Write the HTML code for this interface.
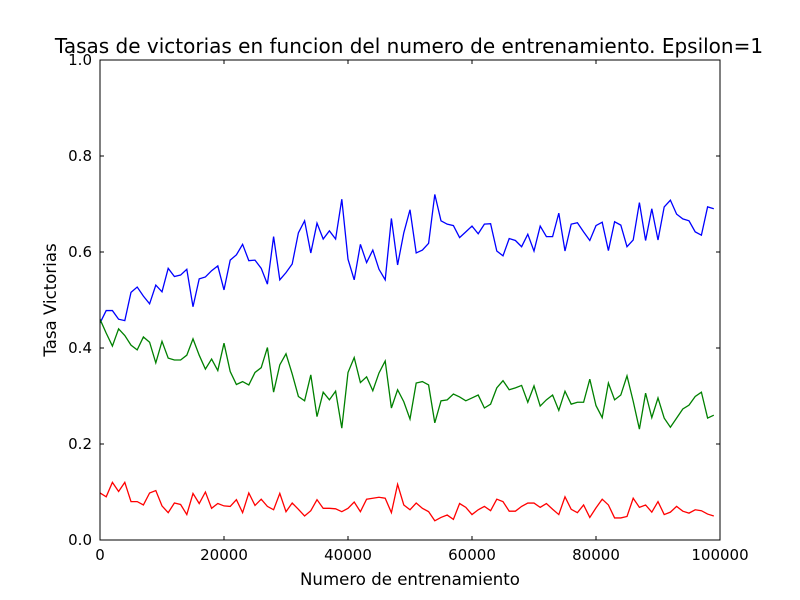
<!DOCTYPE html>
<html><head><meta charset="utf-8"><style>
body{margin:0;background:#fff}
svg{display:block;font-family:"DejaVu Sans","Liberation Sans",sans-serif}
</style></head><body>
<svg id="chart" width="800" height="600">
<rect width="800" height="600" fill="#fff"/>
<text x="409" y="53" font-size="20" text-anchor="middle">Tasas de victorias en funcion del numero de entrenamiento. Epsilon=1</text>
<text x="410" y="585" font-size="16.6" text-anchor="middle">Numero de entrenamiento</text>
<text x="56" y="300" font-size="16.6" text-anchor="middle" transform="rotate(-90 56 300)">Tasa Victorias</text>
<g id="ticks"></g>
<g id="series"></g>
<rect x="100" y="60" width="620" height="480" fill="none" stroke="#000" stroke-width="1"/>
</svg>
<script>
const xStep = 1000;
const blue = [0.452,0.478,0.478,0.46,0.457,0.516,0.527,0.508,0.492,0.531,0.517,0.566,0.549,0.552,0.564,0.486,0.544,0.548,0.561,0.571,0.521,0.583,0.594,0.616,0.582,0.583,0.566,0.533,0.632,0.542,0.557,0.575,0.64,0.665,0.598,0.66,0.627,0.644,0.627,0.71,0.585,0.542,0.616,0.578,0.604,0.564,0.542,0.67,0.573,0.64,0.688,0.598,0.604,0.618,0.72,0.665,0.658,0.655,0.63,0.642,0.654,0.638,0.658,0.659,0.602,0.592,0.628,0.624,0.611,0.637,0.602,0.654,0.632,0.632,0.681,0.602,0.658,0.661,0.642,0.624,0.655,0.662,0.603,0.663,0.656,0.611,0.625,0.703,0.624,0.69,0.625,0.694,0.708,0.679,0.669,0.665,0.642,0.635,0.694,0.69];
const green = [0.46,0.431,0.404,0.44,0.426,0.406,0.396,0.423,0.412,0.369,0.414,0.379,0.375,0.375,0.385,0.419,0.385,0.356,0.377,0.353,0.41,0.351,0.324,0.33,0.323,0.349,0.359,0.401,0.308,0.365,0.388,0.346,0.299,0.29,0.344,0.257,0.308,0.292,0.31,0.233,0.349,0.38,0.328,0.34,0.311,0.348,0.373,0.275,0.313,0.288,0.252,0.327,0.33,0.323,0.244,0.29,0.292,0.304,0.298,0.29,0.296,0.302,0.275,0.283,0.317,0.332,0.313,0.317,0.322,0.287,0.321,0.279,0.292,0.302,0.27,0.31,0.283,0.287,0.287,0.335,0.28,0.255,0.327,0.292,0.302,0.342,0.289,0.231,0.306,0.255,0.296,0.254,0.235,0.254,0.273,0.281,0.299,0.308,0.254,0.26];
const red = [0.098,0.09,0.12,0.101,0.12,0.08,0.08,0.073,0.098,0.103,0.071,0.057,0.077,0.074,0.053,0.097,0.076,0.1,0.066,0.076,0.071,0.07,0.084,0.057,0.098,0.072,0.085,0.07,0.063,0.097,0.059,0.077,0.064,0.05,0.061,0.084,0.066,0.066,0.065,0.059,0.066,0.079,0.059,0.085,0.087,0.089,0.087,0.057,0.116,0.073,0.063,0.077,0.066,0.059,0.04,0.047,0.052,0.043,0.076,0.068,0.053,0.063,0.07,0.061,0.085,0.08,0.06,0.06,0.07,0.077,0.077,0.068,0.076,0.064,0.053,0.09,0.064,0.057,0.073,0.047,0.067,0.085,0.073,0.046,0.046,0.049,0.087,0.068,0.073,0.058,0.08,0.053,0.058,0.07,0.06,0.056,0.063,0.061,0.054,0.05];
const xTicks = [0,20000,40000,60000,80000,100000];
const yTicks = [0.0,0.2,0.4,0.6,0.8,1.0];
const colors = ["#0000ff","#008000","#ff0000"];
const names = ["series-blue","series-green","series-red"];

const NS="http://www.w3.org/2000/svg";
const X0=100,X1=720,Y0=540,Y1=60;
function sx(v){return X0+(v-0)/(100000)*(X1-X0);}
function sy(v){return Y0-(v-0)/1*(Y0-Y1);}
const tg=document.getElementById('ticks');
xTicks.forEach(t=>{
  const x=sx(t);
  [[Y0,Y0-4],[Y1,Y1+4]].forEach(p=>{
    const l=document.createElementNS(NS,'line');
    l.setAttribute('x1',x);l.setAttribute('x2',x);l.setAttribute('y1',p[0]);l.setAttribute('y2',p[1]);
    l.setAttribute('stroke','#000');
    
    
    tg.appendChild(l);
  });
  const tx=document.createElementNS(NS,'text');
  tx.setAttribute('x',x);tx.setAttribute('y',Y0+20);tx.setAttribute('font-size','15');tx.setAttribute('text-anchor','middle');
  tx.textContent=String(t);
  
  
  tg.appendChild(tx);
});
yTicks.forEach(t=>{
  const y=sy(t);
  [[X0,X0+4],[X1,X1-4]].forEach(p=>{
    const l=document.createElementNS(NS,'line');
    l.setAttribute('x1',p[0]);l.setAttribute('x2',p[1]);l.setAttribute('y1',y);l.setAttribute('y2',y);
    l.setAttribute('stroke','#000');
    
    
    tg.appendChild(l);
  });
  const tx=document.createElementNS(NS,'text');
  tx.setAttribute('x',X0-8);tx.setAttribute('y',y+5);tx.setAttribute('font-size','15');tx.setAttribute('text-anchor','end');
  tx.textContent=t.toFixed(1);
  
  
  tg.appendChild(tx);
});
const sg=document.getElementById('series');
[blue,green,red].forEach((arr,k)=>{
  const p=document.createElementNS(NS,'polyline');
  p.setAttribute('points',arr.map((v,i)=>sx(i*xStep)+','+sy(v)).join(' '));
  p.setAttribute('fill','none');p.setAttribute('stroke',colors[k]);p.setAttribute('stroke-width','1.3');
  
  
  sg.appendChild(p);
});
</script>
</body></html>
